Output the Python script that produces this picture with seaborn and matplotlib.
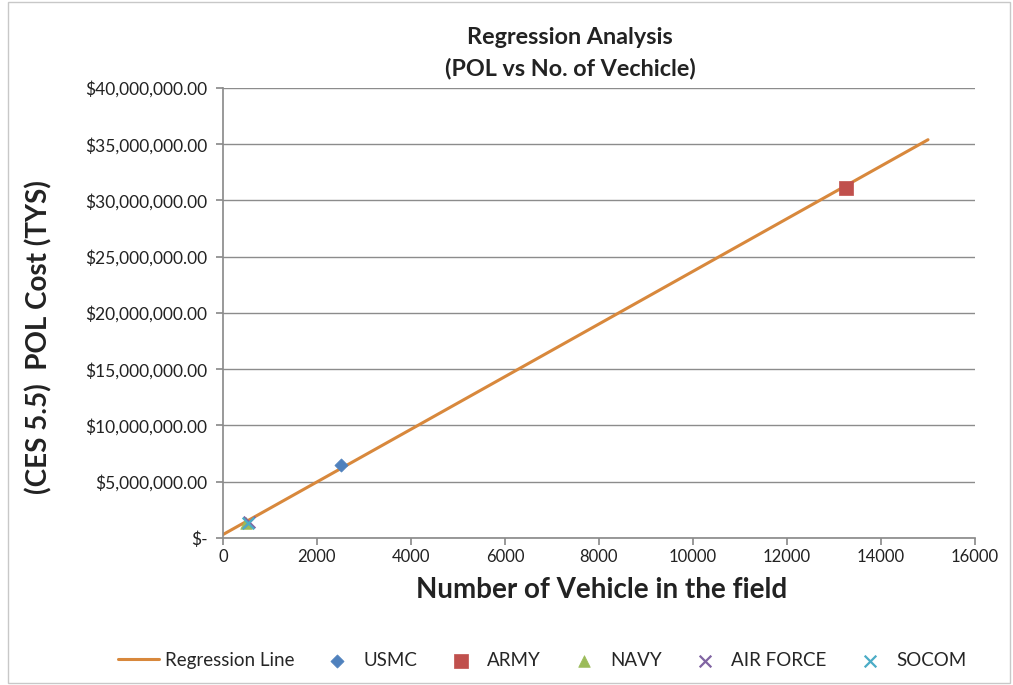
import matplotlib

matplotlib.use("Agg")
import matplotlib.pyplot as plt
import matplotlib.ticker as mticker
import pandas as pd
import seaborn as sns

# регрессионная линия (две конечные точки)
line_x = [0, 15000]
line_y = [300000, 35400000]

# точки по видам войск
services = ["USMC", "ARMY", "NAVY", "AIR FORCE", "SOCOM"]
vehicles = [2520, 13250, 500, 560, 530]
pol_cost = [6450000, 31100000, 1300000, 1400000, 1350000]

colors = ["#4F81BD", "#C0504D", "#9BBB59", "#8064A2", "#4BACC6"]
markers = ["D", "s", "^", "x", "x"]
sizes = [45, 110, 70, 70, 70]

sns.set_theme(style="white")
plt.rcParams["font.family"] = ["Lato", "DejaVu Sans"]

fig = plt.figure(figsize=(10.13, 6.85), dpi=100)
ax = fig.add_axes([0.220, 0.2146, 0.7425, 0.657])

df_line = pd.DataFrame({"x": line_x, "y": line_y})
sns.lineplot(data=df_line, x="x", y="y", color="#D8883C", lw=2.2,
             label="Regression Line", ax=ax)

for name, vx, vy, c, m, s in zip(services, vehicles, pol_cost, colors, markers, sizes):
    kw = dict(linewidth=1.6) if m == "x" else dict(edgecolor=c, linewidth=0.5)
    sns.scatterplot(x=[vx], y=[vy], color=c, marker=m, s=s, label=name,
                    ax=ax, zorder=3, **kw)

ax.set_xlim(0, 16000)
ax.set_ylim(0, 40000000)
ax.set_xticks(range(0, 16001, 2000))
ax.set_yticks(range(0, 40000001, 5000000))


def money(v, pos):
    if v == 0:
        return "$-"
    return f"${v:,.2f}"


ax.yaxis.set_major_formatter(mticker.FuncFormatter(money))
ax.grid(axis="y", color="#8C8C8C", lw=1)
ax.grid(axis="x", visible=False)
for side in ["top", "right"]:
    ax.spines[side].set_visible(False)
for side in ["left", "bottom"]:
    ax.spines[side].set_color("#8C8C8C")
ax.tick_params(axis="both", which="major", direction="out", length=5,
               color="#8C8C8C", labelsize=12.5, labelcolor="#222222",
               left=True, bottom=True, pad=6)
ax.tick_params(axis="x", labelsize=12, pad=3)
ax.set_xlabel("")
ax.set_ylabel("")

fig.text(0.563, 0.922, "Regression Analysis\n(POL vs No. of Vechicle)", fontsize=16.8,
         fontweight="bold", color="#222222", ha="center", va="center", linespacing=1.55)
fig.text(0.594, 0.139, "Number of Vehicle in the field", fontsize=20, fontweight="bold",
         color="#222222", ha="center", va="center")
fig.text(0.038, 0.508, "(CES 5.5)  POL Cost (TYS)", fontsize=20, fontweight="bold",
         color="#222222", ha="center", va="center", rotation=90)

handles, labels = ax.get_legend_handles_labels()
ax.legend_.remove()
fig.legend(handles, labels, loc="center", bbox_to_anchor=(0.535, 0.036), ncol=6,
           frameon=False, fontsize=13.5, handlelength=2.2, columnspacing=1.2,
           handletextpad=0.3)

border = plt.Rectangle((0.008, 0.003), 0.989, 0.994, transform=fig.transFigure,
                       fill=False, edgecolor="#C8C8C8", lw=1)
fig.patches.append(border)

fig.savefig("out.png", dpi=100)
